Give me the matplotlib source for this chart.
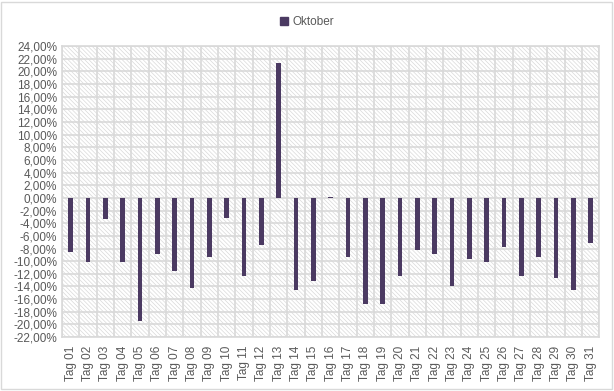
import matplotlib
matplotlib.use("Agg")
import matplotlib.pyplot as plt
from matplotlib.patches import Rectangle, Patch
from matplotlib.ticker import FuncFormatter, MultipleLocator
import numpy as np

days = ["Tag %02d" % d for d in range(1, 32)]
oktober = [-8.5, -10.1, -3.3, -10.2, -19.5, -8.8, -11.5, -14.2, -9.4, -3.1,
           -12.3, -7.4, 21.4, -14.6, -13.1, 0.2, -9.4, -16.8, -16.7, -12.4,
           -8.2, -8.9, -14.0, -9.7, -10.1, -7.8, -12.4, -9.3, -12.7, -14.6,
           -7.1]

bar_color = "#4b3a62"
grid_color = "#d9d9d9"
text_color = "#595959"

plt.rcParams['font.family'] = ['Liberation Sans', 'DejaVu Sans']
plt.rcParams['hatch.linewidth'] = 0.5

fig = plt.figure(figsize=(6.14, 3.91), dpi=100)
ax = fig.add_axes([0.101, 0.138, 0.875, 0.744])

x = np.arange(len(days))
ax.set_xlim(-0.5, len(days) - 0.5)
ax.set_ylim(-22, 24)

# hatched background
ax.add_patch(Rectangle((0, 0), 1, 1, transform=ax.transAxes, fill=False,
                       hatch='\\' * 8, edgecolor=grid_color, lw=0, zorder=0))

for yv in range(-22, 25, 2):
    ax.axhline(yv, color=grid_color, lw=1.2, zorder=1)
for xv in np.arange(-0.5, len(days), 1):
    ax.axvline(xv, color=grid_color, lw=1.2, zorder=1)

ax.bar(x, oktober, width=0.27, color=bar_color, zorder=3)

ax.yaxis.set_major_locator(MultipleLocator(2))
ax.yaxis.set_major_formatter(FuncFormatter(lambda v, p: ("%.2f%%" % v).replace(".", ",")))
ax.set_xticks(x)
ax.set_xticklabels(days, rotation=90)
ax.tick_params(axis='both', length=0, colors=text_color, labelsize=8.5)
ax.tick_params(axis='x', pad=6)
for s in ax.spines.values():
    s.set_color(grid_color)
    s.set_linewidth(1.2)

fig.legend(handles=[Patch(color=bar_color, label="Oktober")], loc='upper center',
           bbox_to_anchor=(0.5, 0.985), frameon=False, fontsize=8.5,
           handlelength=0.7, handleheight=0.7, handletextpad=0.4,
           labelcolor=text_color)

fig.add_artist(Rectangle((0.002, 0.004), 0.994, 0.992, transform=fig.transFigure,
                         fill=False, edgecolor=grid_color, lw=1))

fig.savefig("out.png", dpi=100)
